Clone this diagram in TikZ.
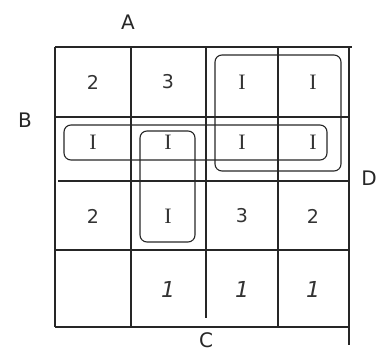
\documentclass[tikz,border=0pt]{standalone}
\usepackage{fontspec}
\setmainfont{DejaVu Sans}
\newfontfamily\serifI{Liberation Serif}
\begin{document}
\begin{tikzpicture}[x=1pt,y=-1pt,
  gridline/.style={line width=1.1pt, draw=black!85},
  loopbox/.style={line width=1.1pt, draw=black!85, rounded corners=7pt},
  cell/.style={font=\fontsize{19}{19}\selectfont, text=black!80},
  icell/.style={cell, font=\fontsize{22}{22}\selectfont\serifI},
  onecell/.style={cell, font=\fontsize{22}{22}\selectfont\itshape},
  lbl/.style={font=\fontsize{20}{20}\selectfont, text=black!85}]
\useasboundingbox (0,0) rectangle (381,352);
% grid
\draw[gridline] (55,47) -- (352,47);
\draw[gridline] (55,117) -- (349,117);
\draw[gridline] (58,181) -- (349,181);
\draw[gridline] (55,250) -- (349,250);
\draw[gridline] (55,327) -- (349,327);
\draw[gridline] (55,47) -- (55,327);
\draw[gridline] (131,47) -- (131,327);
\draw[gridline] (206,47) -- (206,318);
\draw[gridline] (278,47) -- (278,327);
\draw[gridline] (349,47) -- (349,345);
% cell labels
\foreach \r/\y in {1/82,2/142,3/216,4/289}{
  \foreach \c/\x in {1/93,2/168,3/242,4/313}{
    \coordinate (c\r\c) at (\x,\y);
  }
}
\node[cell] (n11) at (c11) {2};
\node[cell] (n12) at (c12) {3};
\node[icell] (n13) at (c13) {I};
\node[icell] (n14) at (c14) {I};
\node[icell] (n21) at (c21) {I};
\node[icell] (n22) at (c22) {I};
\node[icell] (n23) at (c23) {I};
\node[icell] (n24) at (c24) {I};
\node[cell] (n31) at (c31) {2};
\node[icell] (n32) at (c32) {I};
\node[cell] (n33) at (c33) {3};
\node[cell] (n34) at (c34) {2};
\node[onecell] (n42) at (c42) {1};
\node[onecell] (n43) at (c43) {1};
\node[onecell] (n44) at (c44) {1};
% loops
\draw[loopbox] (215,55) rectangle (341,171);
\draw[loopbox] (64,125) rectangle (327,160);
\draw[loopbox] (140,131) rectangle (195,242);
% axis labels
\node[lbl] (A) at (128,22) {A};
\node[lbl] (B) at (25,120) {B};
\node[lbl] (D) at (369,178) {D};
\node[lbl,inner sep=0pt] (C) at (206,340) {C};
\end{tikzpicture}
\end{document}
